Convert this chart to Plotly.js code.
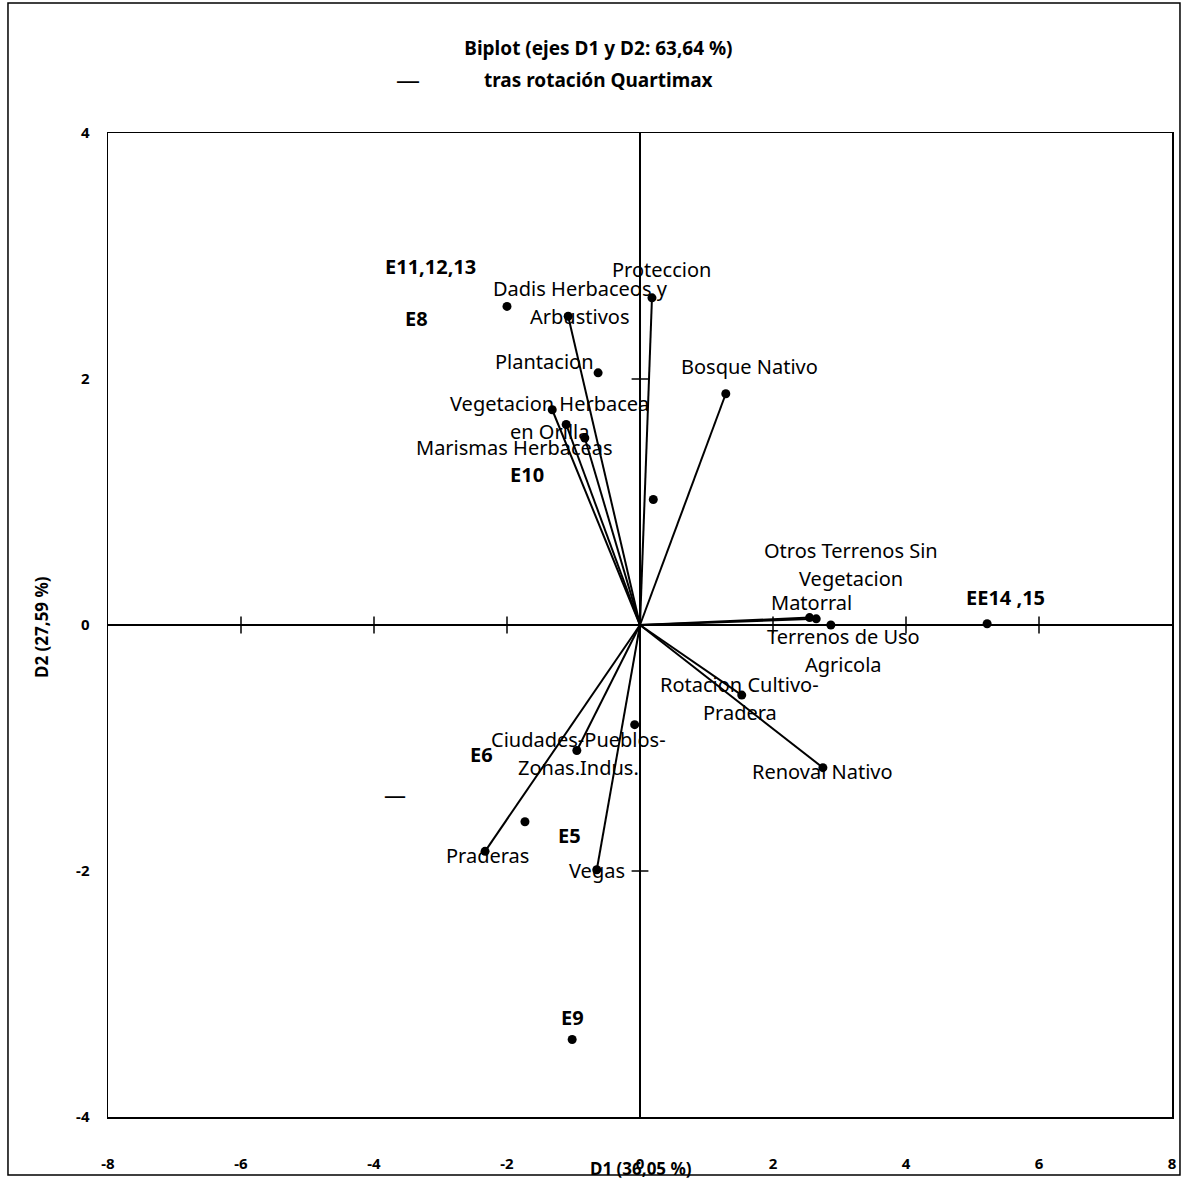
<!DOCTYPE html>
<html>
<head>
<meta charset="utf-8">
<script src="https://cdn.plot.ly/plotly-3.0.1.min.js"></script>
<style>html,body{margin:0;padding:0;background:#fff;}#chart{width:1185px;height:1179px;}</style>
</head>
<body>
<div id="chart"></div>
<script>
// ---- Data ----
const varNames = ["Proteccion", "Dadis Herbaceos y<br>Arbustivos", "Plantacion", "Bosque Nativo",
  "Vegetacion Herbacea<br>en Orilla", "Marismas Herbaceas", "Otros Terrenos Sin<br>Vegetacion",
  "Matorral", "Terrenos de Uso<br>Agricola", "Rotacion Cultivo-<br>Pradera", "Renoval Nativo",
  "Ciudades-Pueblos-<br>Zonas.Indus.", "Praderas", "Vegas"];
const varX = [0.18, -1.08, -0.83, 1.29, -1.32, -1.11, 2.55, 2.65, 2.87, 1.53, 2.75, -0.95, -2.33, -0.65];
const varY = [2.66, 2.51, 1.52, 1.88, 1.75, 1.63, 0.06, 0.05, 0.00, -0.57, -1.16, -1.02, -1.84, -1.99];

const obsNames = ["E11,12,13", "E8", "E10", "E6", "E5", "E9", "EE14 ,15"];
const obsX = [-2.00, -0.63, 0.20, -1.73, -0.08, -1.02, 5.22];
const obsY = [2.59, 2.05, 1.02, -1.60, -0.81, -3.37, 0.01];

const xTicks = [-8, -6, -4, -2, 0, 2, 4, 6, 8];
const yTicks = [-4, -2, 0, 2, 4];

// ---- Label placement (pixel shifts, styling only) ----
const varShift = {
  "Proteccion": [10, 28], "Dadis Herbaceos y<br>Arbustivos": [12, 14], "Plantacion": [-40, 77],
  "Bosque Nativo": [24, 27], "Vegetacion Herbacea<br>en Orilla": [-3, -8], "Marismas Herbaceas": [-52, -23],
  "Otros Terrenos Sin<br>Vegetacion": [41, 53], "Matorral": [-5, 16], "Terrenos de Uso<br>Agricola": [13, -25],
  "Rotacion Cultivo-<br>Pradera": [-2, -3], "Renoval Nativo": [0, -4],
  "Ciudades-Pueblos-<br>Zonas.Indus.": [2, -3], "Praderas": [2, -4], "Vegas": [0, -1]
};
const obsShift = {
  "E11,12,13": [-77, 40], "E8": [-182, 54], "E10": [-126, 25], "E6": [-43, 67],
  "E5": [-65, -111], "E9": [0, 22], "EE14 ,15": [18, 26]
};

const FONT = "Noto Sans, Open Sans, sans-serif";
const LINEGAP = 28;

// vectors from origin
const vx = [], vy = [];
varX.forEach((x, i) => { vx.push(0, x, null); vy.push(0, varY[i], null); });

const xCross = xTicks.filter(v => v !== 0 && Math.abs(v) !== 8);
const yCross = yTicks.filter(v => v !== 0 && Math.abs(v) !== 4);

const traces = [
  { type: "scatter", mode: "lines", x: vx, y: vy, line: { color: "#000", width: 2 }, hoverinfo: "skip", showlegend: false },
  { type: "scatter", mode: "markers", x: varX, y: varY, marker: { color: "#000", size: 9 }, showlegend: false },
  { type: "scatter", mode: "markers", x: obsX, y: obsY, marker: { color: "#000", size: 9 }, showlegend: false },
  // cross ticks on the zero lines
  { type: "scatter", mode: "markers", x: xCross, y: xCross.map(() => 0),
    marker: { symbol: "line-ns", size: 12, line: { color: "#000", width: 1.5 } }, showlegend: false, hoverinfo: "skip" },
  { type: "scatter", mode: "markers", y: yCross, x: yCross.map(() => 0),
    marker: { symbol: "line-ew", size: 12, line: { color: "#000", width: 1.5 } }, showlegend: false, hoverinfo: "skip" }
];

const annotations = [];
function addLabel(txt, x, y, sh, bold) {
  const lines = txt.split("<br>");
  const n = lines.length;
  lines.forEach((ln, k) => {
    const off = ((n - 1) / 2 - k) * LINEGAP;
    annotations.push({
      x: x, y: y, xref: "x", yref: "y", text: bold ? "<b>" + ln + "</b>" : ln, showarrow: false,
      xshift: sh[0], yshift: sh[1] + off, xanchor: "center", yanchor: "middle",
      font: { family: FONT, size: bold ? 20 : 20, color: "#000" }
    });
  });
}
varNames.forEach((n, i) => addLabel(n, varX[i], varY[i], varShift[n], false));
obsNames.forEach((n, i) => addLabel(n, obsX[i], obsY[i], obsShift[n], true));

// subtitle (second title line) and its dash
annotations.push({ xref: "paper", yref: "paper", x: 0.461, y: 1.0535, xanchor: "center", yanchor: "middle",
  text: "<b>tras rotación Quartimax</b>", showarrow: false, font: { family: FONT, size: 19, color: "#000" } });
annotations.push({ xref: "paper", yref: "paper", x: 0.282, y: 1.0555, xanchor: "center", yanchor: "middle",
  text: "—", showarrow: false, font: { family: FONT, size: 24, color: "#000" } });
// axis titles
annotations.push({ xref: "paper", yref: "paper", x: 0.501, y: -0.052, yanchor: "middle", xanchor: "center",
  text: "<b>D1 (36,05 %)</b>", showarrow: false, font: { family: FONT, size: 17, color: "#000" } });
annotations.push({ xref: "paper", yref: "paper", x: -0.062, y: 0.498, xanchor: "center", yanchor: "middle",
  text: "<b>D2 (27,59 %)</b>", textangle: -90, showarrow: false, font: { family: FONT, size: 17, color: "#000" } });
// stray dash mark inside plot
annotations.push({ xref: "paper", yref: "paper", x: 0.27, y: 0.328, xanchor: "center", yanchor: "middle",
  text: "—", showarrow: false, font: { family: FONT, size: 22, color: "#000" } });

const layout = {
  width: 1185, height: 1179,
  margin: { l: 108, r: 13, t: 133, b: 62 },
  paper_bgcolor: "#fff", plot_bgcolor: "#fff",
  title: { text: "<b>Biplot (ejes D1 y D2: 63,64 %)</b>",
    x: 0.505, xanchor: "center", y: 0.9593, yanchor: "middle", font: { family: FONT, size: 19, color: "#000" } },
  showlegend: false,
  xaxis: { range: [-8, 8], tickvals: xTicks, ticktext: xTicks.map(String), showgrid: false,
    zeroline: true, zerolinecolor: "#000", zerolinewidth: 1.5, showline: true, mirror: true, linecolor: "#000", linewidth: 1.5,
    ticks: "", ticklabelstandoff: 32, tickfont: { family: FONT, size: 15, color: "#000", weight: "bold" }, fixedrange: true },
  yaxis: { range: [-4, 4], tickvals: yTicks, ticktext: yTicks.map(String), showgrid: false,
    zeroline: true, zerolinecolor: "#000", zerolinewidth: 1.5, showline: true, mirror: true, linecolor: "#000", linewidth: 1.5,
    ticks: "", ticklabelstandoff: 14, tickfont: { family: FONT, size: 15, color: "#000", weight: "bold" }, fixedrange: true },
  annotations: annotations,
  shapes: [
    { type: "rect", xref: "paper", yref: "paper", x0: -0.094, x1: 1.0075, y0: -0.059, y1: 1.132,
      line: { color: "#000", width: 1.5 }, fillcolor: "rgba(0,0,0,0)" }
  ]
};

Plotly.newPlot("chart", traces, layout, { displayModeBar: false, staticPlot: true });
</script>
</body>
</html>
